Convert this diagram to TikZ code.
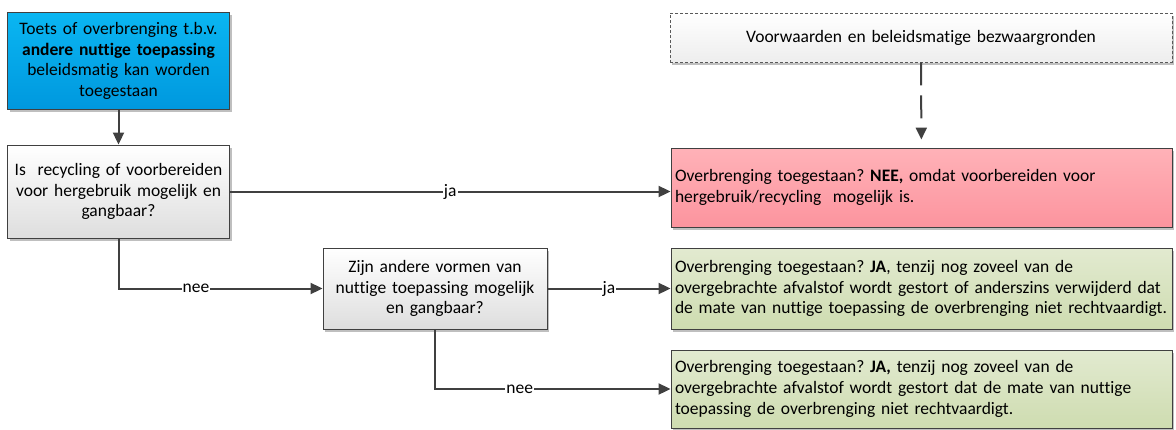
\documentclass[tikz,border=0pt]{standalone}
\usepackage{fontspec}
\setmainfont[Ligatures = NoCommon]{Carlito}
\usepackage{tikz}
\usetikzlibrary{arrows.meta,shadows}
\definecolor{line gray}{RGB}{64,64,64}
\definecolor{sky top}{RGB}{10,182,242}
\definecolor{sky bottom}{RGB}{0,152,222}
\definecolor{rose top}{RGB}{255,178,184}
\definecolor{rose bottom}{RGB}{252,148,158}
\definecolor{sage top}{RGB}{226,234,208}
\definecolor{sage bottom}{RGB}{206,220,176}
\frenchspacing

\begin{document}
\begin{tikzpicture}[x=1pt, y=-1pt,
	box/.style = {draw = line gray, line width = 0.9pt, inner sep = 4pt,
		font = \fontsize{17.5}{20.7}\selectfont,
		drop shadow = {shadow xshift = 2pt, shadow yshift = -2.5pt, fill = black, opacity = 0.25}},
	question/.style = {box, top color = white, bottom color = black!13, align = center},
	verdict/.style = {box, align = left, text width = 493pt},
	flow/.style = {draw = line gray, line width = 2pt, -{Triangle[length = 12pt, width = 11pt]}},
	answer/.style = {fill = white, inner sep = 1pt, font = \fontsize{17.5}{20.7}\selectfont}]
	\useasboundingbox (0, 0) rectangle (1176, 429);
	% Left column
	\node[box, top color = sky top, bottom color = sky bottom, align = center,
		text width = 214pt, minimum height = 97pt] (toets) at (118.5, 61)
		{Toets of overbrenging t.b.v.\\ \textbf{andere nuttige toepassing}\\ beleidsmatig kan worden\\ toegestaan};
	\node[question, text width = 214pt, minimum height = 93pt] (recycling) at (118.5, 191.5)
		{Is\ \ recycling of voorbereiden\\ voor hergebruik mogelijk en\\ gangbaar?};
	\node[question, text width = 216pt, minimum height = 81pt] (vormen) at (435, 288.5)
		{Zijn andere vormen van\\ nuttige toepassing mogelijk\\ en gangbaar?};
	% Right column
	\node[box, draw = black!65, dash pattern = on 3pt off 2pt, line width = 0.8pt,
		top color = white, bottom color = black!7, text width = 494pt, align = center,
		minimum height = 49pt] (voorwaarden) at (921, 37.5)
		{Voorwaarden en beleidsmatige bezwaargronden};
	\node[verdict, top color = rose top, bottom color = rose bottom, minimum height = 79pt] (nee) at (921.5, 187.5)
		{Overbrenging toegestaan? \textbf{NEE,} omdat voorbereiden voor\\ hergebruik/recycling\ \ mogelijk is.};
	\node[verdict, top color = sage top, bottom color = sage bottom, minimum height = 81pt] (ja1) at (921.5, 288.5)
		{Overbrenging toegestaan? \textbf{JA}, tenzij nog zoveel van de\\ overgebrachte afvalstof wordt gestort of anderszins verwijderd dat\\ de mate van nuttige toepassing de overbrenging niet rechtvaardigt.};
	\node[verdict, top color = sage top, bottom color = sage bottom, minimum height = 78pt] (ja2) at (921.5, 389)
		{Overbrenging toegestaan? \textbf{JA,} tenzij nog zoveel van de\\ overgebrachte afvalstof wordt gestort dat de mate van nuttige\\ toepassing de overbrenging niet rechtvaardigt.};
	% Connectors
	\draw[flow] (toets) -- (recycling);
	\draw[flow] (recycling) -- node[answer] {ja} (nee.west |- recycling);
	\draw[flow] (recycling.south) |- node[answer, pos = 0.69] {nee} (vormen.west);
	\draw[flow] (vormen) -- node[answer] {ja} (ja1);
	\draw[flow] (vormen.south) |- node[answer, pos = 0.68] {nee} (ja2.west);
	\draw[flow, dash pattern = on 23pt off 10pt, shorten > = 8pt] (voorwaarden) -- (nee);
\end{tikzpicture}
\end{document}
